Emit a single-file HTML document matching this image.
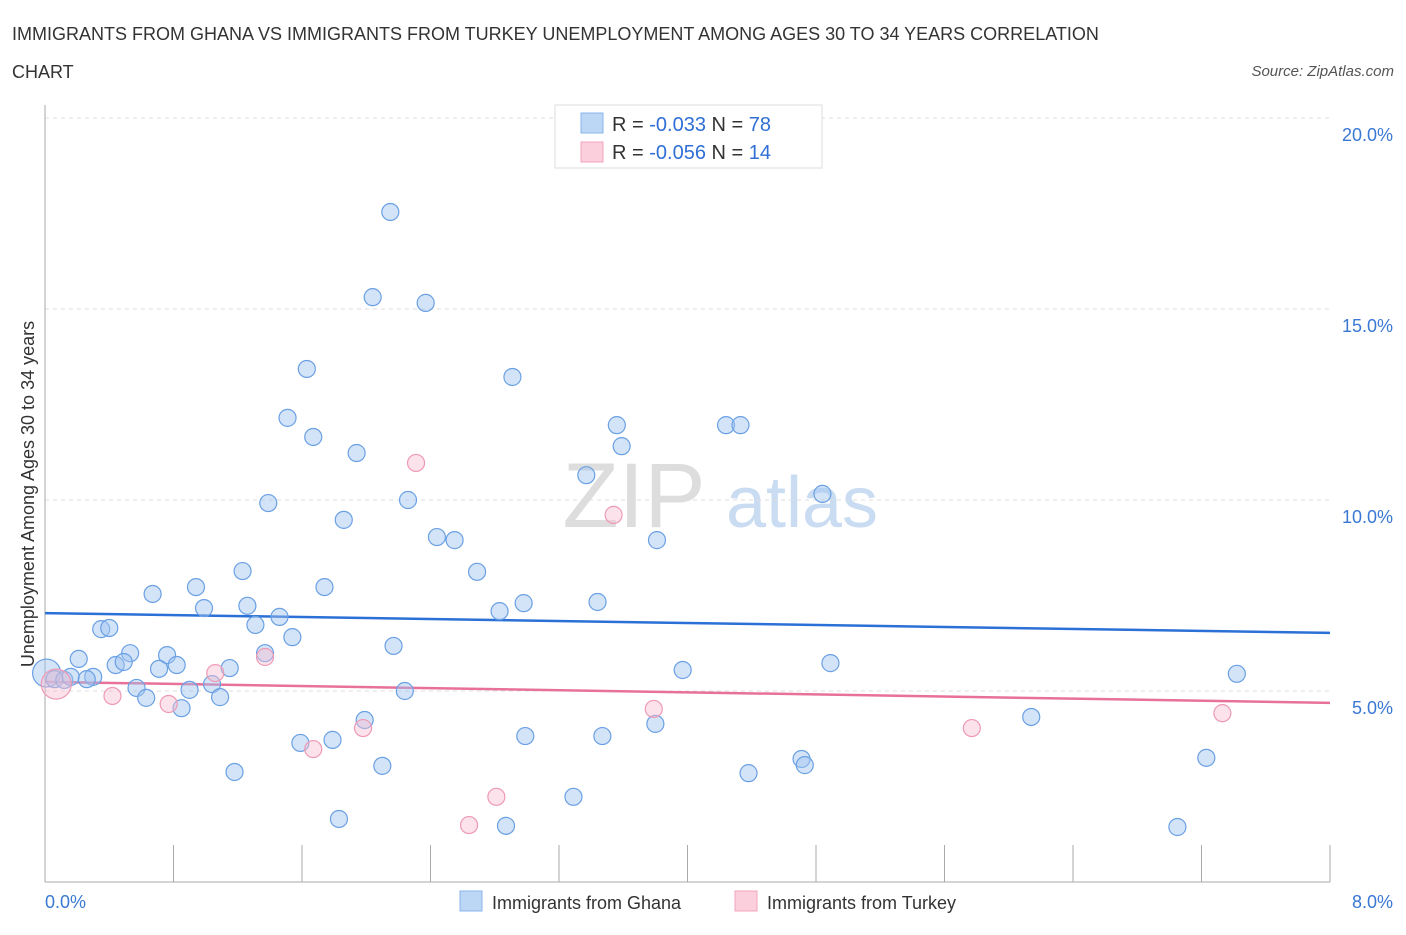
<!DOCTYPE html>
<html><head><meta charset="utf-8"><style>
body{margin:0;background:#fff;font-family:"Liberation Sans",sans-serif;}
svg text{font-family:"Liberation Sans",sans-serif;}
</style></head><body>
<svg id="chart" width="1406" height="930" xmlns="http://www.w3.org/2000/svg">
<text x="12" y="40" font-size="18" fill="#333">IMMIGRANTS FROM GHANA VS IMMIGRANTS FROM TURKEY UNEMPLOYMENT AMONG AGES 30 TO 34 YEARS CORRELATION</text>
<text x="12" y="78" font-size="18" fill="#333">CHART</text>
<text x="1394" y="76" font-size="15" fill="#555" text-anchor="end" font-style="italic">Source: ZipAtlas.com</text>
<g>
<text x="634" y="527" font-size="92" fill="#ddd" text-anchor="middle" font-family="Liberation Serif,serif">ZIP</text>
<text x="802" y="527" font-size="72" fill="#c9dcf2" text-anchor="middle">atlas</text>
</g>
<g id="grid"></g>
<g id="axes"></g>
<g id="trends"></g>
<g id="points"></g>
<text transform="translate(34,494) rotate(-90)" font-size="18" fill="#333" text-anchor="middle">Unemployment Among Ages 30 to 34 years</text>
<text x="45" y="908" font-size="18" fill="#3a78d4">0.0%</text>
<text x="1393" y="908" font-size="18" fill="#3a78d4" text-anchor="end">8.0%</text>
<g>
<rect x="555" y="105" width="267" height="63" fill="#fff" stroke="#ddd"/>
<rect x="581" y="113" width="22" height="20" fill="#bcd6f6" stroke="#8ab4ea"/>
<rect x="581" y="142" width="22" height="20" fill="#fbd0dc" stroke="#f0a5bb"/>
<text x="612" y="131" font-size="20" fill="#333">R = <tspan fill="#2f6fd6">-0.033</tspan>   N = <tspan fill="#2f6fd6">78</tspan></text>
<text x="612" y="159" font-size="20" fill="#333">R = <tspan fill="#2f6fd6">-0.056</tspan>   N = <tspan fill="#2f6fd6"> 14</tspan></text>
</g>
<g>
<rect x="460" y="891" width="22" height="20" fill="#bcd6f6" stroke="#8ab4ea"/>
<text x="492" y="909" font-size="18" fill="#333">Immigrants from Ghana</text>
<rect x="735" y="891" width="22" height="20" fill="#fbd0dc" stroke="#f0a5bb"/>
<text x="767" y="909" font-size="18" fill="#333">Immigrants from Turkey</text>
</g>
</svg>
<script>
const yTicks=[5,10,15,20];
const yTickLabels=["5.0%","10.0%","15.0%","20.0%"];
const xTicks=[0,0.8,1.6,2.4,3.2,4,4.8,5.6,6.4,7.2,8];
const ghanaX=[2.15,2.04,2.37,1.63,2.91,1.51,1.67,3.56,4.24,4.33,3.59,1.94,3.37,4.84,1.39,2.26,1.86,2.44,2.55,3.81,1.23,2.69,0.94,1.74,0.67,0.99,1.26,1.46,2.83,2.98,3.44,1.31,0.35,0.40,1.54,2.17,0.53,0.21,0.76,0.44,0.49,0.71,0.82,1.37,1.15,3.97,4.89,7.42,0.01,0.06,0.12,0.16,0.30,0.26,0.57,0.90,1.04,0.63,1.09,2.24,0.85,1.99,3.80,6.14,2.99,3.47,1.59,1.79,1.18,2.10,4.38,4.71,4.73,7.23,3.29,1.83,2.87,7.05];
const ghanaY=[17.54,15.31,15.16,13.43,13.22,12.15,11.65,11.96,11.96,11.96,11.41,11.23,10.65,10.16,9.92,10.00,9.48,9.03,8.95,8.95,8.14,8.12,7.72,7.72,7.54,7.17,7.23,6.94,7.09,7.30,7.33,6.73,6.62,6.65,6.41,6.18,5.99,5.84,5.94,5.68,5.76,5.58,5.68,5.99,5.60,5.55,5.73,5.45,5.47,5.31,5.29,5.37,5.37,5.31,5.08,5.03,5.18,4.82,4.84,5.00,4.55,4.24,4.14,4.32,3.82,3.82,3.64,3.72,2.88,3.04,2.85,3.22,3.06,3.25,2.23,1.65,1.47,1.44];
const turkeyX=[2.31,3.54,1.37,1.06,0.07,0.42,0.77,3.79,7.33,1.98,5.77,1.67,2.81,2.64];
const turkeyY=[10.97,9.61,5.89,5.47,5.18,4.87,4.66,4.53,4.42,4.03,4.03,3.48,2.23,1.49];
const ghanaTrend=[7.04,6.52];
const turkeyTrend=[5.24,4.69];
const NS="http://www.w3.org/2000/svg";
const X=v=>45+v*160.625;
const Y=v=>882-v*38.2;
function mk(tag,attrs,parent){const e=document.createElementNS(NS,tag);for(const k in attrs)e.setAttribute(k,attrs[k]);document.getElementById(parent).appendChild(e);return e;}
yTicks.forEach((t,i)=>{
 const l=mk('line',{x1:45,x2:1330,y1:Y(t),y2:Y(t),stroke:'#ddd','stroke-dasharray':'4,4'},'grid');
 
 
 const tx=mk('text',{x:1393,y:Y(t)+23,'font-size':18,fill:'#3a78d4','text-anchor':'end'},'grid');
 tx.textContent=yTickLabels[i];
 
 
});
const ax=mk('line',{x1:45,x2:45,y1:105,y2:882,stroke:'#aaa'},'axes');


const bx=mk('line',{x1:45,x2:1330,y1:882,y2:882,stroke:'#aaa'},'axes');


xTicks.forEach(t=>{
 const l=mk('line',{x1:X(t),x2:X(t),y1:845,y2:882,stroke:'#aaa'},'axes');
 
 
});
const bt=mk('line',{x1:X(0),x2:X(8),y1:Y(ghanaTrend[0]),y2:Y(ghanaTrend[1]),stroke:'#2a70d6','stroke-width':2.5},'trends');


const pt=mk('line',{x1:X(0),x2:X(8),y1:Y(turkeyTrend[0]),y2:Y(turkeyTrend[1]),stroke:'#e7719a','stroke-width':2.5},'trends');


ghanaX.forEach((x,i)=>{
 const c=mk('circle',{cx:X(x),cy:Y(ghanaY[i]),r:i==48?14:8.5,fill:'rgba(160,196,240,0.45)',stroke:'#6aa0e4','stroke-width':1.2},'points');
 
 
});
turkeyX.forEach((x,i)=>{
 const c=mk('circle',{cx:X(x),cy:Y(turkeyY[i]),r:i==4?15:8.5,fill:'rgba(248,190,208,0.45)',stroke:'#ee9ab5','stroke-width':1.2},'points');
 
 
});
</script>
</body></html>
